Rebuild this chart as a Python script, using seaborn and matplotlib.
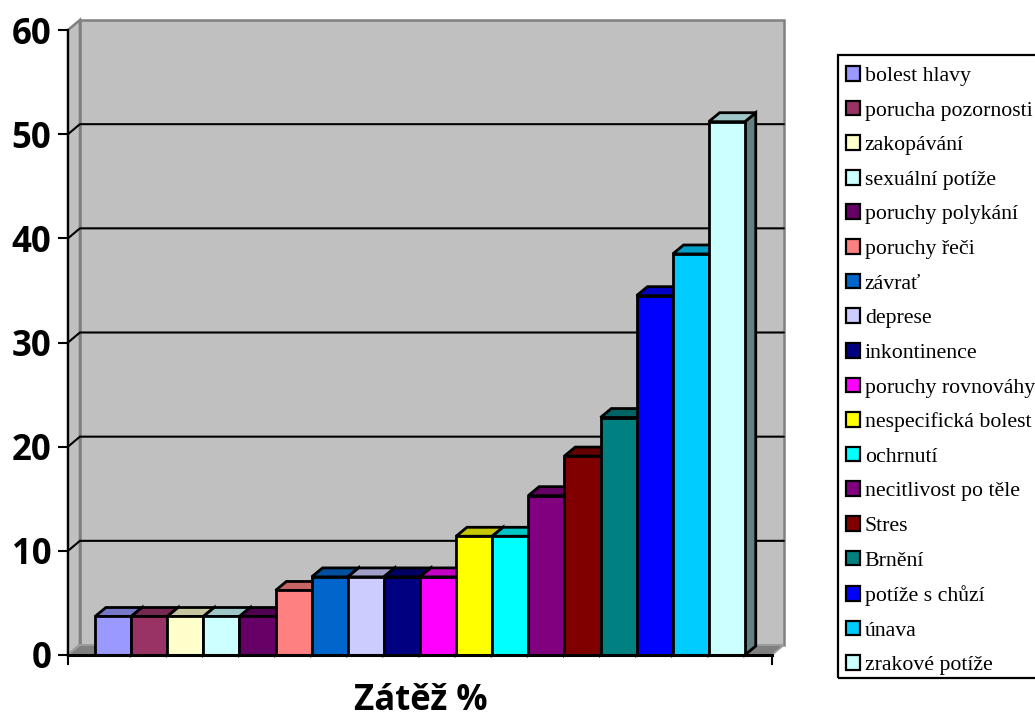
import matplotlib
matplotlib.use("Agg")
import matplotlib.pyplot as plt
import seaborn as sns
import pandas as pd
from matplotlib.patches import Polygon, Patch, Rectangle
from matplotlib.colors import to_rgb

# Symptom categories and their share in percent
categories = ["bolest hlavy", "porucha pozornosti", "zakopávání", "sexuální potíže",
              "poruchy polykání", "poruchy řeči", "závrať", "deprese", "inkontinence",
              "poruchy rovnováhy", "nespecifická bolest", "ochrnutí",
              "necitlivost po těle", "Stres", "Brnění", "potíže s chůzí", "únava",
              "zrakové potíže"]
values = [3.7, 3.7, 3.7, 3.7, 3.7, 6.2, 7.5, 7.5, 7.5, 7.5, 11.4, 11.4,
          15.3, 19.1, 22.8, 34.5, 38.5, 51.2]
colors = ["#9999FF", "#993366", "#FFFFCC", "#CCFFFF", "#660066", "#FF8080",
          "#0066CC", "#CCCCFF", "#000080", "#FF00FF", "#FFFF00", "#00FFFF",
          "#800080", "#800000", "#008080", "#0000FF", "#00CCFF", "#CCFFFF"]
y_ticks = [0, 10, 20, 30, 40, 50, 60]
x_title = "Zátěž %"

sns.set_style("white")
plt.rcParams["font.family"] = ["Open Sans", "DejaVu Sans"]

W, H = 1035, 720
fig = plt.figure(figsize=(W / 100, H / 100), dpi=100)
ax = fig.add_axes([68 / W, 65 / H, 704 / W, 625 / H])
ax.set_facecolor("none")

df = pd.DataFrame({"kategorie": categories, "hodnota": values})
sns.barplot(data=df, x="kategorie", y="hodnota", hue="kategorie",
            order=categories, hue_order=categories, palette=colors,
            width=1.0, dodge=False, saturation=1, edgecolor="black",
            linewidth=2, legend=False, ax=ax)

bars = sorted([p for p in ax.patches if isinstance(p, Rectangle)
               and p.get_height() > 0], key=lambda p: p.get_x())

# category axis with a margin of 0.75 bar on each side
xl, xr = -0.5 - 0.75, len(categories) - 0.5 + 0.75
ymax = 60
ax.set_xlim(xl, xr)
ax.set_ylim(0, ymax)

# depth offsets for the pseudo-3D walls and bars (data units)
wdx, wdy = 0.33, 0.96
bdx, bdy = 0.30, 0.86


def shade(c, f):
    r, g, b = to_rgb(c)
    return (r * f, g * f, b * f)


wall = "#C0C0C0"
edge = "#808080"
back = Polygon([(xl + wdx, wdy), (xr + wdx, wdy), (xr + wdx, ymax + wdy),
                (xl + wdx, ymax + wdy)], closed=True, facecolor=wall,
               edgecolor=edge, lw=1.8, zorder=0.2, clip_on=False)
side = Polygon([(xl, 0), (xl, ymax), (xl + wdx, ymax + wdy), (xl + wdx, wdy)],
               closed=True, facecolor=wall, edgecolor=edge, lw=1.8,
               zorder=0.3, clip_on=False)
floor = Polygon([(xl, 0), (xr, 0), (xr + wdx, wdy), (xl + wdx, wdy)],
                closed=True, facecolor="#808080", edgecolor="#A0A0A0", lw=1.2,
                zorder=0.4, clip_on=False)
for p in (back, side, floor):
    ax.add_patch(p)

# gridlines on the back and side walls
for v in y_ticks[1:-1]:
    ax.plot([xl, xl + wdx, xr + wdx], [v, v + wdy, v + wdy], color="black",
            lw=1.5, zorder=0.5, clip_on=False)

# bar tops and right sides
for i, (p, c) in enumerate(zip(bars, colors)):
    x0, w, h = p.get_x(), p.get_width(), p.get_height()
    base = 10 + 3 * i
    p.set_zorder(base + 2)
    p.set_joinstyle("miter")
    top = Polygon([(x0, h), (x0 + w, h), (x0 + w + bdx, h + bdy), (x0 + bdx, h + bdy)],
                  closed=True, facecolor=shade(c, 0.78), edgecolor="black",
                  lw=2, zorder=base + 1, clip_on=False, joinstyle="miter")
    rside = Polygon([(x0 + w, 0), (x0 + w, h), (x0 + w + bdx, h + bdy), (x0 + w + bdx, bdy)],
                    closed=True, facecolor=shade(c, 0.5), edgecolor="black",
                    lw=2, zorder=base, clip_on=False, joinstyle="miter")
    ax.add_patch(top)
    ax.add_patch(rside)

# axes
for s in ("top", "right"):
    ax.spines[s].set_visible(False)
ax.spines["left"].set_color("black")
ax.spines["left"].set_linewidth(1.6)
ax.spines["left"].set_zorder(200)
ax.spines["bottom"].set_color("black")
ax.spines["bottom"].set_linewidth(2.2)
ax.spines["bottom"].set_zorder(200)

ax.set_yticks(y_ticks)
ax.set_yticklabels([str(t) for t in y_ticks], fontsize=25, fontweight="bold",
                   color="black")
ax.set_xticks([xl, xr])
ax.set_xticklabels(["", ""])
ax.tick_params(axis="both", direction="out", length=7, width=1.5,
               color="black", left=True, bottom=True)
ax.tick_params(axis="y", pad=5)
ax.set_xlabel("")
ax.set_ylabel("")

fig.text(421 / W, 1 - 719.5 / H, x_title, ha="center", va="bottom",
         fontsize=25, fontweight="bold", color="black")

# legend: entries plus a separate box frame
handles = [Patch(facecolor=c, edgecolor="black", lw=1.6) for c in colors]
leg = fig.legend(handles, categories, loc="upper left",
                 bbox_to_anchor=(846 / W, 1 - 66 / H), borderaxespad=0,
                 frameon=False,
                 prop={"family": "Liberation Serif", "size": 15.7},
                 handlelength=0.66, handleheight=0.66, handletextpad=0.2,
                 labelspacing=0.67, borderpad=0)
for t in leg.get_texts():
    t.set_color("black")
fig.patches.append(Rectangle((838 / W, 1 - 678 / H), 210 / W, 623 / H,
                             transform=fig.transFigure, fill=False,
                             edgecolor="black", lw=1.6, clip_on=False))

fig.savefig("out.png", dpi=100)
